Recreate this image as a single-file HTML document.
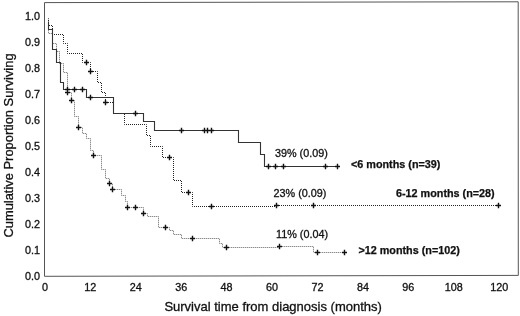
<!DOCTYPE html>
<html><head><meta charset="utf-8"><title>Survival</title>
<style>
html,body{margin:0;padding:0;background:#fff;}
body{width:520px;height:316px;overflow:hidden;}
svg{display:block;font-family:"Liberation Sans",Arial,Helvetica,sans-serif;}
</style></head><body>
<svg width="520" height="316" viewBox="0 0 520 316">
<rect width="520" height="316" fill="#fff"/>
<polygon points="44.5,2.6 518.2,1.8 518.3,275.4 44.5,276.3" fill="none" stroke="#555" stroke-width="1"/>
<path d="M48.5,18.5 L48.5,33.5 L52.5,33.5 L52.5,43.5 L56.5,43.5 L56.5,51.5 L59.5,51.5 L59.5,63.5 L63.5,63.5 L63.5,72.5 L67.5,72.5 L67.5,92.5 L71.5,92.5 L71.5,100.5 L74.5,100.5 L74.5,116.5 L78.5,116.5 L78.5,127.5 L82.5,127.5 L82.5,133.5 L86.5,133.5 L86.5,138.5 L90.5,138.5 L90.5,150.5 L93.5,150.5 L93.5,155.5 L101.5,155.5 L101.5,169.5 L105.5,169.5 L105.5,178.5 L109.5,178.5 L109.5,183.5 L112.5,183.5 L112.5,189.5 L121.5,189.5 L121.5,195.5 L125.5,195.5 L125.5,201.5 L127.5,201.5 L127.5,207.5 L143.5,207.5 L143.5,213.5 L147.5,213.5 L147.5,216.5 L158.5,216.5 L158.5,227.5 L169.5,227.5 L169.5,230.5 L173.5,230.5 L173.5,234.5 L181.5,234.5 L181.5,238.5 L219.5,238.5 L219.5,243.5 L222.5,243.5 L222.5,247.5 L279.5,247.5 L279.5,246.5 L313.5,246.5 L313.5,252.5 L344.5,252.5" fill="none" stroke="#d4d4d4" stroke-width="1"/>
<path d="M48.5,18.5 L48.5,33.5 L52.5,33.5 L52.5,43.5 L56.5,43.5 L56.5,51.5 L59.5,51.5 L59.5,63.5 L63.5,63.5 L63.5,72.5 L67.5,72.5 L67.5,92.5 L71.5,92.5 L71.5,100.5 L74.5,100.5 L74.5,116.5 L78.5,116.5 L78.5,127.5 L82.5,127.5 L82.5,133.5 L86.5,133.5 L86.5,138.5 L90.5,138.5 L90.5,150.5 L93.5,150.5 L93.5,155.5 L101.5,155.5 L101.5,169.5 L105.5,169.5 L105.5,178.5 L109.5,178.5 L109.5,183.5 L112.5,183.5 L112.5,189.5 L121.5,189.5 L121.5,195.5 L125.5,195.5 L125.5,201.5 L127.5,201.5 L127.5,207.5 L143.5,207.5 L143.5,213.5 L147.5,213.5 L147.5,216.5 L158.5,216.5 L158.5,227.5 L169.5,227.5 L169.5,230.5 L173.5,230.5 L173.5,234.5 L181.5,234.5 L181.5,238.5 L219.5,238.5 L219.5,243.5 L222.5,243.5 L222.5,247.5 L279.5,247.5 L279.5,246.5 L313.5,246.5 L313.5,252.5 L344.5,252.5" fill="none" stroke="#8c8c8c" stroke-width="1" stroke-dasharray="1 1" stroke-dashoffset="0.5"/>
<path d="M48.5,18.5 L48.5,25.5 L52.5,25.5 L52.5,34.5 L63.5,34.5 L63.5,43.5 L67.5,43.5 L67.5,53.5 L82.5,53.5 L82.5,62.5 L90.5,62.5 L90.5,71.5 L97.5,71.5 L97.5,82.5 L101.5,82.5 L101.5,92.5 L105.5,92.5 L105.5,102.5 L113.5,102.5 L113.5,113.5 L124.5,113.5 L124.5,124.5 L146.5,124.5 L146.5,135.5 L150.5,135.5 L150.5,146.5 L162.5,146.5 L162.5,157.5 L173.5,157.5 L173.5,180.5 L181.5,180.5 L181.5,192.5 L192.5,192.5 L192.5,206.5 L276.5,206.5 L276.5,205.5 L498.5,205.5" fill="none" stroke="#222" stroke-width="1" stroke-dasharray="1 1" stroke-dashoffset="0.5"/>
<path d="M48.5,21.5 L48.5,29.5 L52.5,29.5 L52.5,49.5 L56.5,49.5 L56.5,62.5 L60.5,62.5 L60.5,82.5 L63.5,82.5 L63.5,89.5 L86.5,89.5 L86.5,97.5 L113.5,97.5 L113.5,113.5 L143.5,113.5 L143.5,121.5 L154.5,121.5 L154.5,130.5 L238.5,130.5 L238.5,142.5 L260.5,142.5 L260.5,154.5 L264.5,154.5 L264.5,166.5 L337.5,166.5" fill="none" stroke="#333" stroke-width="1.1"/>
<path d="M65.0,89.5h5.0M67.5,86.7v5.6M72.0,89.5h5.0M74.5,86.7v5.6M80.0,89.5h5.0M82.5,86.7v5.6M88.0,97.5h5.0M90.5,94.7v5.6M133.0,113.5h5.0M135.5,110.7v5.6M179.0,130.5h5.0M181.5,127.7v5.6M202.0,130.5h5.0M204.5,127.7v5.6M205.0,130.5h5.0M207.5,127.7v5.6M209.0,130.5h5.0M211.5,127.7v5.6M266.0,166.5h5.0M268.5,163.7v5.6M273.0,166.5h5.0M275.5,163.7v5.6M281.0,166.5h5.0M283.5,163.7v5.6M323.0,166.5h5.0M325.5,163.7v5.6M335.0,166.5h5.0M337.5,163.7v5.6M84.0,62.5h5.0M86.5,59.7v5.6M88.0,71.5h5.0M90.5,68.7v5.6M103.0,102.5h5.0M105.5,99.7v5.6M167.0,157.5h5.0M169.5,154.7v5.6M186.0,192.5h5.0M188.5,189.7v5.6M209.0,206.5h5.0M211.5,203.7v5.6M274.0,205.5h5.0M276.5,202.7v5.6M311.0,205.5h5.0M313.5,202.7v5.6M496.0,205.5h5.0M498.5,202.7v5.6M65.0,92.5h5.0M67.5,89.7v5.6M69.0,100.5h5.0M71.5,97.7v5.6M76.0,127.5h5.0M78.5,124.7v5.6M91.0,155.5h5.0M93.5,152.7v5.6M107.0,183.5h5.0M109.5,180.7v5.6M110.0,189.5h5.0M112.5,186.7v5.6M125.0,207.5h5.0M127.5,204.7v5.6M133.0,207.5h5.0M135.5,204.7v5.6M141.0,213.5h5.0M143.5,210.7v5.6M163.0,227.5h5.0M165.5,224.7v5.6M190.0,238.5h5.0M192.5,235.7v5.6M224.0,247.5h5.0M226.5,244.7v5.6M277.0,246.5h5.0M279.5,243.7v5.6M315.0,252.5h5.0M317.5,249.7v5.6M342.0,252.5h5.0M344.5,249.7v5.6" fill="none" stroke="#111" stroke-width="1.4"/>
<g font-size="10.8" fill="#111" stroke="#111" stroke-width="0.3" text-anchor="end">
<text x="40" y="20.1">1.0</text>
<text x="40" y="46.1">0.9</text>
<text x="40" y="72.2">0.8</text>
<text x="40" y="98.2">0.7</text>
<text x="40" y="124.2">0.6</text>
<text x="40" y="150.2">0.5</text>
<text x="40" y="176.2">0.4</text>
<text x="40" y="202.2">0.3</text>
<text x="40" y="228.2">0.2</text>
<text x="40" y="254.2">0.1</text>
<text x="40" y="280.1">0.0</text>
</g>
<g font-size="10.8" fill="#111" stroke="#111" stroke-width="0.3" text-anchor="middle">
<text x="44.9" y="291">0</text>
<text x="90.3" y="291">12</text>
<text x="135.8" y="291">24</text>
<text x="181.2" y="291">36</text>
<text x="226.6" y="291">48</text>
<text x="272.1" y="291">60</text>
<text x="317.5" y="291">72</text>
<text x="362.9" y="291">84</text>
<text x="408.3" y="291">96</text>
<text x="453.8" y="291">108</text>
<text x="499.2" y="291">120</text>
</g>
<text x="164.4" y="310.7" font-size="13" fill="#111" stroke="#111" stroke-width="0.3">Survival time from diagnosis (months)</text>
<text transform="translate(12.7,145.5) rotate(-90)" text-anchor="middle" font-size="12.9" fill="#111" stroke="#111" stroke-width="0.3">Cumulative Proportion Surviving</text>
<g font-size="10.8" fill="#111" stroke="#111" stroke-width="0.3">
<text x="275" y="157.4">39% (0.09)</text>
<text x="273.6" y="197">23% (0.09)</text>
<text x="276" y="238">11% (0.04)</text>
</g>
<g font-size="10.8" font-weight="bold" fill="#111" stroke="#111" stroke-width="0.25">
<text x="351" y="168.4">&lt;6 months (n=39)</text>
<text x="396" y="197">6-12 months (n=28)</text>
<text x="358.4" y="254">&gt;12 months (n=102)</text>
</g>
</svg></body></html>
